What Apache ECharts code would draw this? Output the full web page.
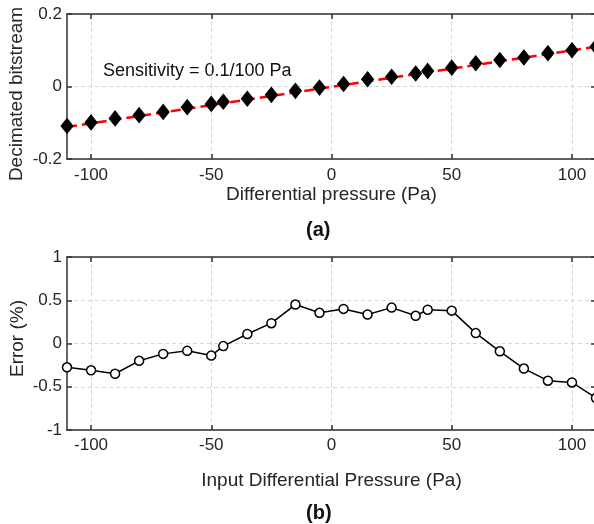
<!DOCTYPE html>
<html>
<head>
<meta charset="utf-8">
<script src="https://cdn.jsdelivr.net/npm/echarts@6/dist/echarts.min.js"></script>
<style>
  html, body { margin: 0; padding: 0; background: #fff; }
  #chart { width: 594px; height: 524px; }
</style>
</head>
<body>
<div id="chart"></div>
<script>
// pressure steps (Pa), same for both panels
const pressure = [-110, -100, -90, -80, -70, -60, -50, -45, -35, -25, -15, -5,
  5, 15, 25, 35, 40, 50, 60, 70, 80, 90, 100, 110];

// (a) decimated bitstream
const bitstream = [-0.109, -0.099, -0.088, -0.079, -0.070, -0.057, -0.048, -0.042,
  -0.034, -0.023, -0.012, -0.003, 0.007, 0.020, 0.027, 0.036, 0.043, 0.052,
  0.064, 0.073, 0.080, 0.092, 0.100, 0.110];

// red dashed fit line end points
const fitX = [-110, 110];
const fitY = [-0.112, 0.110];

// (b) error in percent
const errorPct = [-0.275, -0.31, -0.35, -0.20, -0.12, -0.085, -0.14, -0.03,
  0.11, 0.235, 0.45, 0.355, 0.40, 0.335, 0.415, 0.32, 0.39, 0.38,
  0.12, -0.09, -0.29, -0.43, -0.45, -0.63];

const xTicks = [-100, -50, 0, 50, 100];

const FONT = "Liberation Sans, Arial, sans-serif";
const TEXT = "#262626";
const AXIS = "#333333";

const chart = echarts.init(document.getElementById("chart"));

// helper for an x axis (bottom one with labels, top one is just the box edge)
function xAx(grid, pos, name, labelGap, nameGap) {
  const main = pos === "bottom";
  return {
    type: "value",
    gridIndex: grid,
    position: pos,
    min: -110,
    max: 110,
    name: main ? name : "",
    nameLocation: "middle",
    nameGap: nameGap,
    nameMoveOverlap: false,
    nameTextStyle: { fontFamily: FONT, fontSize: 19, color: TEXT },
    axisLine: { show: true, onZero: false, lineStyle: { color: AXIS, width: 1.5 } },
    axisTick: { show: true, inside: true, length: 5, customValues: xTicks,
      lineStyle: { color: AXIS, width: 1.5 } },
    axisLabel: { show: main, customValues: xTicks, margin: labelGap,
      fontFamily: FONT, fontSize: 17, color: TEXT },
    splitLine: { show: main, lineStyle: { color: "#d6d6d6", type: [4, 3], width: 1 } }
  };
}

function yAx(grid, pos, name, min, max, step, nameGap, namePad) {
  const main = pos === "left";
  return {
    type: "value",
    gridIndex: grid,
    position: pos,
    min: min,
    max: max,
    interval: step,
    name: main ? name : "",
    nameLocation: "middle",
    nameGap: nameGap,
    nameMoveOverlap: false,
    nameTextStyle: { fontFamily: FONT, fontSize: 19, color: TEXT, padding: namePad },
    axisLine: { show: true, onZero: false, lineStyle: { color: AXIS, width: 1.5 } },
    axisTick: { show: true, inside: true, length: 5, lineStyle: { color: AXIS, width: 1.5 } },
    axisLabel: { show: main, margin: 5, fontFamily: FONT, fontSize: 17, color: TEXT },
    splitLine: { show: main, lineStyle: { color: "#d6d6d6", type: [4, 3], width: 1 } }
  };
}

const option = {
  animation: false,
  backgroundColor: "#fff",
  grid: [
    { left: 67, top: 14, width: 529, height: 145, containLabel: false, outerBoundsMode: "none" },
    { left: 67, top: 257, width: 529, height: 173, containLabel: false, outerBoundsMode: "none" }
  ],
  xAxis: [
    xAx(0, "bottom", "Differential pressure (Pa)", 8, 26),
    xAx(0, "top", "", 8, 26),
    xAx(1, "bottom", "Input Differential Pressure (Pa)", 7, 41),
    xAx(1, "top", "", 7, 41)
  ],
  yAxis: [
    yAx(0, "left", "Decimated bitstream", -0.2, 0.2, 0.2, 41, [0, 15, 0, 0]),
    yAx(0, "right", "", -0.2, 0.2, 0.2, 41, 0),
    yAx(1, "left", "Error (%)", -1, 1, 0.5, 40, [0, 0, 0, 10]),
    yAx(1, "right", "", -1, 1, 0.5, 40, 0)
  ],
  graphic: [
    { type: "text", left: 103, top: 62,
      style: { text: "Sensitivity = 0.1/100 Pa", font: "18px " + FONT, fill: "#111" } },
    { type: "text", left: 306, top: 220,
      style: { text: "(a)", font: "bold 20px " + FONT, fill: "#111" } },
    { type: "text", left: 306, top: 503,
      style: { text: "(b)", font: "bold 20px " + FONT, fill: "#111" } }
  ],
  series: [
    {
      type: "line",
      xAxisIndex: 0, yAxisIndex: 0,
      data: fitX.map((x, i) => [x, fitY[i]]),
      showSymbol: false,
      lineStyle: { color: "#ff0000", width: 2.5, type: [10, 5] },
      z: 2
    },
    {
      type: "scatter",
      xAxisIndex: 0, yAxisIndex: 0,
      data: pressure.map((x, i) => [x, bitstream[i]]),
      symbol: "diamond",
      symbolSize: [12, 15],
      itemStyle: { color: "#000", opacity: 1, borderColor: "#000", borderWidth: 1 },
      z: 3
    },
    {
      type: "line",
      xAxisIndex: 2, yAxisIndex: 2,
      data: pressure.map((x, i) => [x, errorPct[i]]),
      symbol: "circle",
      symbolSize: 9,
      showAllSymbol: true,
      lineStyle: { color: "#000", width: 1.5 },
      itemStyle: { color: "#fff", borderColor: "#000", borderWidth: 1.5 },
      z: 3
    }
  ]
};

chart.setOption(option);
</script>
</body>
</html>
